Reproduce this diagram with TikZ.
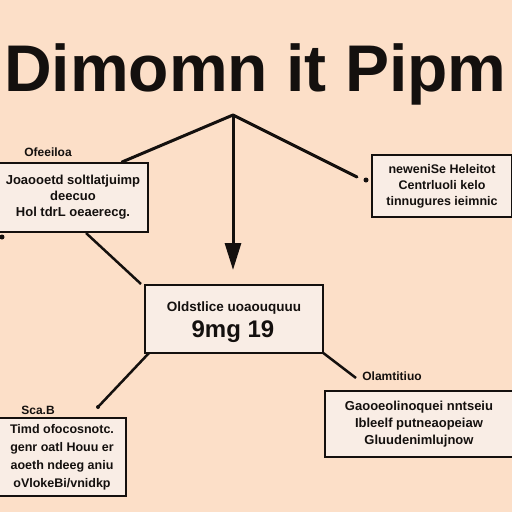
\documentclass[tikz,border=0pt]{standalone}
\usepackage{fontspec}
\setmainfont{Liberation Sans}
\usetikzlibrary{arrows.meta}
\definecolor{bgpeach}{RGB}{252,223,200}
\definecolor{boxfill}{RGB}{249,237,229}
\definecolor{ink}{RGB}{20,16,14}
\tikzset{
  card/.style={draw=ink,line width=2pt,fill=boxfill,inner sep=0pt},
  cardtext/.style={text=ink,font=\bfseries\fontsize{12.5}{16}\selectfont,align=center,inner sep=0pt},
  tag/.style={text=ink,font=\bfseries\fontsize{12}{14}\selectfont,inner sep=0pt},
  link/.style={draw=ink,line width=3pt},
  blob/.style={circle,fill=ink,inner sep=0pt,minimum size=5pt}
}
\begin{document}
\begin{tikzpicture}[x=1pt,y=-1pt]
\useasboundingbox (0,0) rectangle (512,512);
\clip (0,0) rectangle (512,512);
\fill[bgpeach] (0,0) rectangle (512,512);
% title
\node[anchor=base west,inner sep=0pt,text=ink,font=\bfseries\fontsize{66}{74}\selectfont] (title) at (4,91) {Dimomn it Pipm};
% hub
\coordinate (hub) at (233,115);
% boxes
\node[card,minimum width=150pt,minimum height=69pt] (lbox) at (73,197.5) {};
\node[card,minimum width=140pt,minimum height=62pt] (rbox) at (442,186) {};
\node[card,minimum width=178pt,minimum height=68pt] (cbox) at (234,319) {};
\node[card,minimum width=128pt,minimum height=78pt] (blbox) at (62,457) {};
\node[card,minimum width=188pt,minimum height=66pt] (brbox) at (419,424) {};
% box texts
\node[cardtext,font=\bfseries\fontsize{13}{16}\selectfont] (lt) at (lbox) {Joaooetd soltlatjuimp\\deecuo\\Hol tdrL oeaerecg.};
\node[cardtext] (rt) at (rbox) {neweniSe Heleitot\\Centrluoli kelo\\tinnugures ieimnic};
\node[cardtext,font=\bfseries\fontsize{13.5}{16}\selectfont] (ct1) at (234,308) {Oldstlice uoaouquuu};
\node[text=ink,font=\bfseries\fontsize{24}{26}\selectfont,inner sep=0pt] (ct2) at (233,332) {9mg 19};
\node[cardtext,font=\bfseries\fontsize{12.5}{18}\selectfont] (blt) at (blbox) {Timd ofocosnotc.\\genr oatl Houu er\\aoeth ndeeg aniu\\oVlokeBi/vnidkp};
\node[cardtext,font=\bfseries\fontsize{13}{17}\selectfont] (brt) at (brbox) {Gaooeolinoquei nntseiu\\Ibleelf putneaopeiaw\\Gluudenimlujnow};
% tags
\node[tag] (ltag) at (48,152) {Ofeeiloa};
\node[tag] (bltag) at (38,410) {Sca.B};
\node[tag] (brtag) at (392,376) {Olamtitiuo};
% connector ends
\coordinate (lin) at (122,162);
\coordinate (rin) at (357,177);
\coordinate (cin) at (233,270);
\coordinate (lout) at (86,233);
\coordinate (cinl) at (141,284);
\coordinate (csw) at (149,353);
\coordinate (blend) at (98,407);
\coordinate (cse) at (322,352);
\coordinate (brend) at (356,378);
\node[blob] (rdot) at (366,180) {};
\node[blob] (ldot) at (2,237) {};
\node[blob,minimum size=4pt] (bldot) at (98,407) {};
% connectors
\draw[link,line cap=round] (hub) -- (lin);
\draw[link,line cap=round] (hub) -- (rin);
\draw[link,-{Triangle[length=27pt,width=16pt]}] (hub) -- (cin);
\draw[link,line width=2.5pt] (lout) -- (cinl);
\draw[link,line width=2.5pt] (csw) -- (blend);
\draw[link,line width=2.5pt] (cse) -- (brend);
\end{tikzpicture}
\end{document}
